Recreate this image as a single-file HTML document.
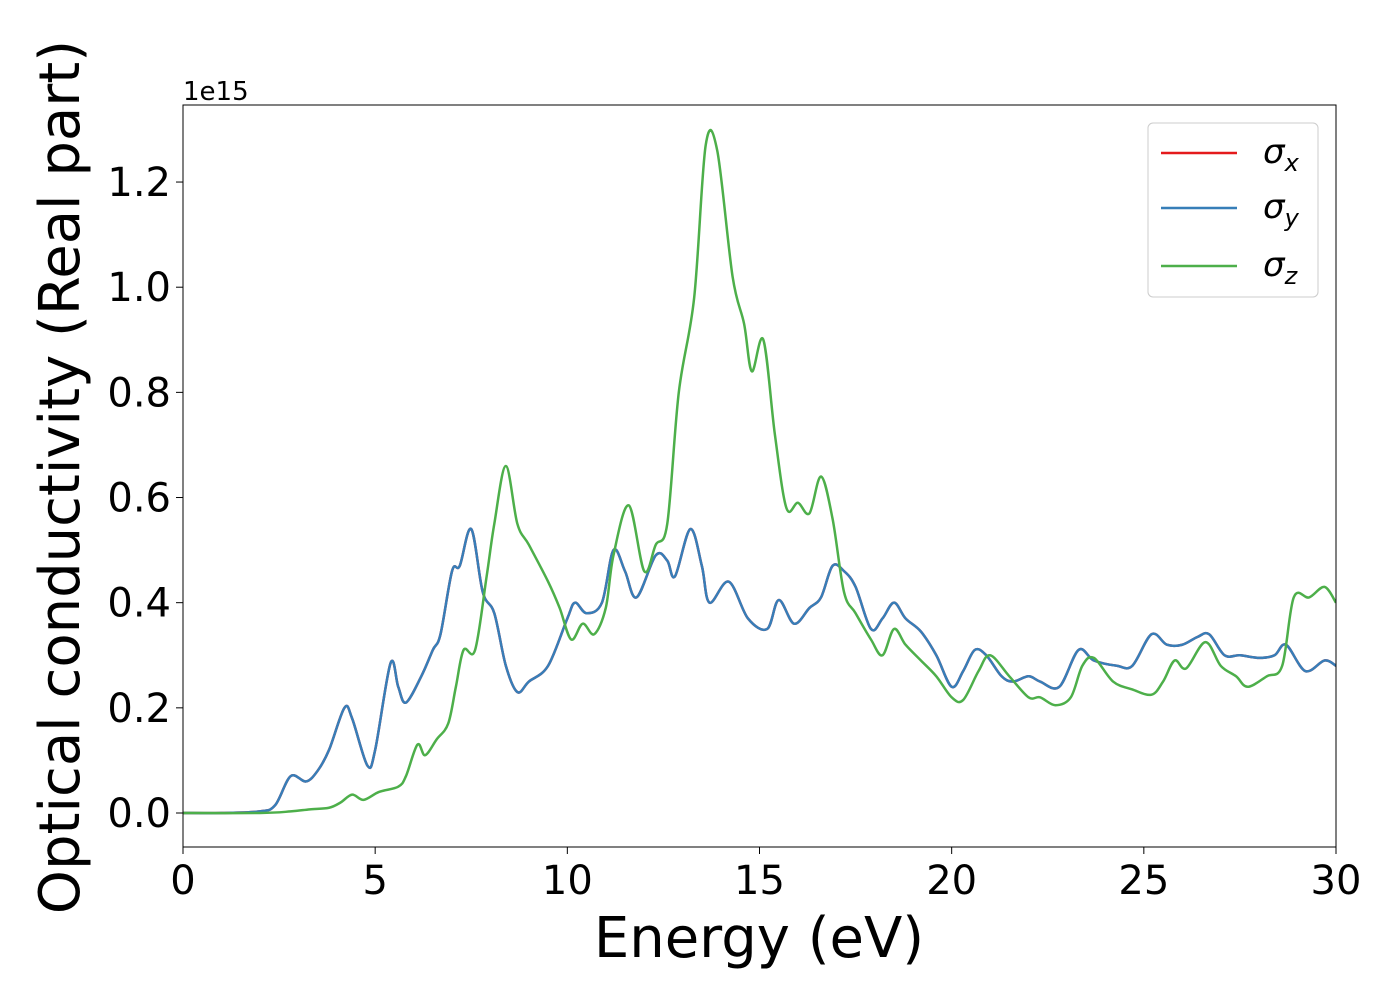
<!DOCTYPE html>
<html><head><meta charset="utf-8"><style>
body{margin:0;background:#fff}
svg text{font-family:"DejaVu Sans","Liberation Sans",sans-serif}
</style></head><body>
<svg width="1400" height="1000" xmlns="http://www.w3.org/2000/svg">
<g id="plot"></g>
</svg>
<script>
const energyBlue=[0,1,2,2.4,2.8,3.2,3.5,3.8,4.2,4.4,4.8,5.0,5.4,5.6,5.8,6.2,6.5,6.7,7.0,7.2,7.5,7.8,8.1,8.4,8.7,9.0,9.5,10.0,10.2,10.5,10.9,11.2,11.5,11.8,12.3,12.6,12.8,13.2,13.5,13.7,14.2,14.7,15.2,15.5,15.9,16.3,16.6,16.9,17.2,17.5,17.9,18.2,18.5,18.8,19.2,19.6,20.0,20.3,20.6,20.9,21.3,21.6,22.0,22.3,22.8,23.3,23.7,24.3,24.7,25.2,25.6,26.0,26.4,26.7,27.1,27.5,28.0,28.4,28.7,29.2,29.7,30];
const sigmaXY=[0,0,0.003,0.015,0.07,0.06,0.08,0.12,0.2,0.18,0.09,0.12,0.285,0.24,0.21,0.26,0.31,0.34,0.46,0.47,0.54,0.42,0.38,0.28,0.23,0.25,0.28,0.37,0.40,0.38,0.40,0.50,0.46,0.41,0.49,0.48,0.45,0.54,0.47,0.40,0.44,0.37,0.35,0.405,0.36,0.39,0.41,0.47,0.46,0.43,0.35,0.37,0.40,0.37,0.345,0.30,0.24,0.27,0.31,0.30,0.26,0.25,0.26,0.25,0.24,0.31,0.29,0.28,0.28,0.34,0.32,0.32,0.335,0.34,0.30,0.30,0.295,0.30,0.32,0.27,0.29,0.28];
const energyGreen=[0,2,2.8,3.3,3.8,4.1,4.4,4.7,5.1,5.6,5.8,6.1,6.3,6.6,6.9,7.1,7.3,7.6,7.9,8.1,8.4,8.7,9.0,9.5,9.8,10.1,10.4,10.7,11.0,11.2,11.6,12.0,12.3,12.6,12.9,13.3,13.6,13.9,14.3,14.6,14.8,15.1,15.4,15.7,16.0,16.3,16.6,16.9,17.2,17.5,17.9,18.2,18.5,18.8,19.2,19.6,20.0,20.3,20.7,21.0,21.5,22.0,22.3,22.7,23.1,23.4,23.7,24.2,24.7,25.2,25.5,25.8,26.1,26.6,27.0,27.4,27.7,28.2,28.6,28.9,29.3,29.7,30];
const sigmaZ=[0,0,0.003,0.007,0.01,0.02,0.035,0.025,0.04,0.05,0.07,0.13,0.11,0.14,0.17,0.24,0.31,0.31,0.45,0.55,0.66,0.55,0.51,0.44,0.39,0.33,0.36,0.34,0.39,0.49,0.585,0.46,0.51,0.55,0.80,0.98,1.27,1.26,1.02,0.93,0.84,0.90,0.72,0.58,0.59,0.57,0.64,0.56,0.42,0.38,0.33,0.30,0.35,0.32,0.29,0.26,0.22,0.215,0.27,0.30,0.26,0.22,0.22,0.205,0.22,0.28,0.295,0.25,0.235,0.225,0.25,0.29,0.275,0.325,0.28,0.26,0.24,0.26,0.28,0.41,0.41,0.43,0.40];
const xTicks=[0,5,10,15,20,25,30];
const yTicks=[0,0.2,0.4,0.6,0.8,1.0,1.2];
const yTickLabels=["0.0","0.2","0.4","0.6","0.8","1.0","1.2"];

const L=183,R=1336,T=105,B=847;
const X=e=>L+(e/30)*(R-L);
const Y=v=>813-v*525.8;
const g=document.getElementById('plot');
const NS="http://www.w3.org/2000/svg";
function mk(tag,at,parent){const el=document.createElementNS(NS,tag);for(const k in at)el.setAttribute(k,at[k]);(parent||g).appendChild(el);return el;}
function pathFor(xs,ys){
  const p=xs.map((x,i)=>[X(x),Y(ys[i])]);
  let d="M"+p[0][0]+","+p[0][1];
  for(let i=0;i<p.length-1;i++){
    const p0=p[Math.max(0,i-1)],p1=p[i],p2=p[i+1],p3=p[Math.min(p.length-1,i+2)];
    const c1=[p1[0]+(p2[0]-p0[0])/6,p1[1]+(p2[1]-p0[1])/6];
    const c2=[p2[0]-(p3[0]-p1[0])/6,p2[1]-(p3[1]-p1[1])/6];
    d+=" C"+c1[0]+","+c1[1]+" "+c2[0]+","+c2[1]+" "+p2[0]+","+p2[1];
  }
  return d;
}
const clip=mk('clipPath',{id:'c'});mk('rect',{x:L,y:T,width:R-L,height:B-T},clip);
let el;
el=mk('path',{d:pathFor(energyBlue,sigmaXY),fill:'none',stroke:'#e41a1c','stroke-width':2.5,'clip-path':'url(#c)'});

el=mk('path',{d:pathFor(energyBlue,sigmaXY),fill:'none',stroke:'#377eb8','stroke-width':2.5,'clip-path':'url(#c)'});

el=mk('path',{d:pathFor(energyGreen,sigmaZ),fill:'none',stroke:'#4daf4a','stroke-width':2.5,'clip-path':'url(#c)'});

el=mk('rect',{x:L,y:T,width:R-L,height:B-T,fill:'none',stroke:'#000','stroke-width':1});

xTicks.forEach(t=>{
  mk('line',{x1:X(t),x2:X(t),y1:B,y2:B+7,stroke:'#000','stroke-width':1});
  el=mk('text',{x:X(t),y:B+47,'text-anchor':'middle','font-size':40});el.textContent=t;
  
});
yTicks.forEach((t,i)=>{
  mk('line',{x1:L-7,x2:L,y1:Y(t),y2:Y(t),stroke:'#000','stroke-width':1});
  el=mk('text',{x:L-12,y:Y(t)+14,'text-anchor':'end','font-size':40});el.textContent=yTickLabels[i];
  
});
el=mk('text',{x:183,y:100,'font-size':26});el.textContent="1e15";

el=mk('text',{x:759,y:957,'text-anchor':'middle','font-size':56});el.textContent="Energy (eV)";

el=mk('text',{x:0,y:0,'text-anchor':'middle','font-size':56,transform:'translate(79,477) rotate(-90)'});el.textContent="Optical conductivity (Real part)";

const lg=mk('g',{});
mk('rect',{x:1148,y:123,width:170,height:174,rx:5,fill:'#fff',stroke:'#ccc','stroke-width':1},lg);
const entries=[["#e41a1c","x",153],["#377eb8","y",208],["#4daf4a","z",266]];
entries.forEach(e=>{
  const eg=mk('g',{},lg);
  mk('line',{x1:1161,x2:1237,y1:e[2],y2:e[2],stroke:e[0],'stroke-width':2.5},eg);
  const t=mk('text',{x:1263,y:e[2]+10,'font-size':34,'font-style':'italic'},eg);
  t.innerHTML='σ<tspan font-size="24" dy="8">'+e[1]+'</tspan>';
});
</script>
</body></html>
